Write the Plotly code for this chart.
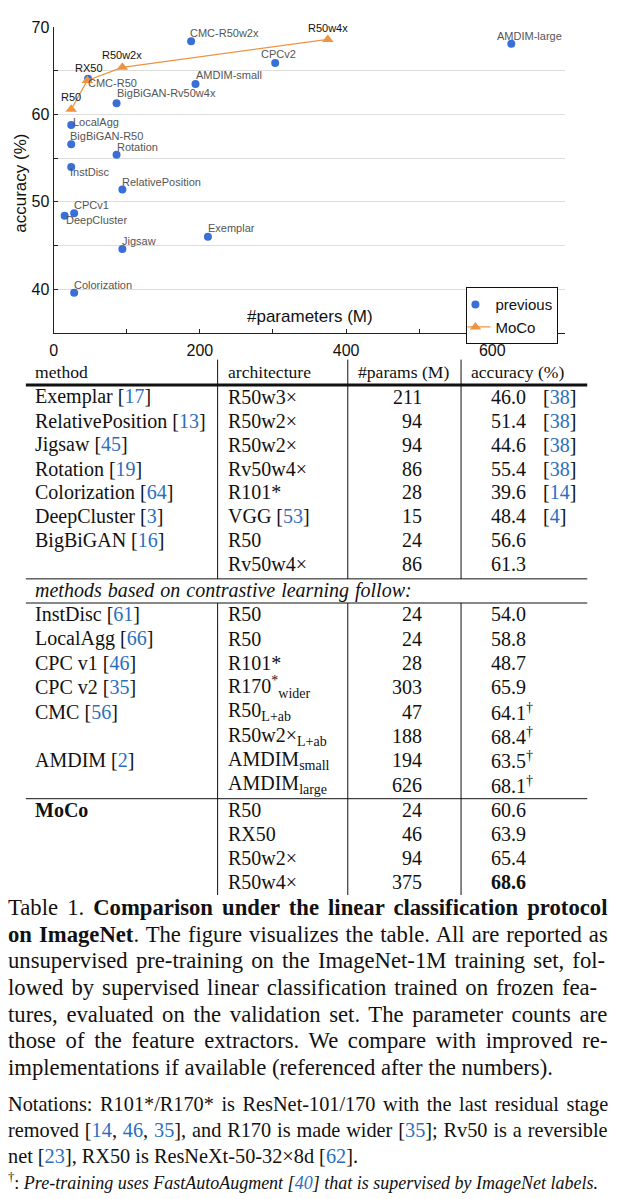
import plotly.graph_objects as go

# ---------------- chart data ----------------
prev_labels = ["Exemplar", "RelativePosition", "Jigsaw", "Rotation", "Colorization",
               "DeepCluster", "BigBiGAN-R50", "BigBiGAN-Rv50w4x", "InstDisc", "LocalAgg",
               "CPCv1", "CPCv2", "CMC-R50", "CMC-R50w2x", "AMDIM-small", "AMDIM-large"]
prev_params = [211, 94, 94, 86, 28, 15, 24, 86, 24, 24, 28, 303, 47, 188, 194, 626]
prev_acc = [46.0, 51.4, 44.6, 55.4, 39.6, 48.4, 56.6, 61.3, 54.0, 58.8, 48.7, 65.9, 64.1, 68.4, 63.5, 68.1]

moco_labels = ["R50", "RX50", "R50w2x", "R50w4x"]
moco_params = [24, 46, 94, 375]
moco_acc = [60.6, 63.9, 65.4, 68.6]

x_ticks = [0, 200, 400, 600]
y_ticks = [40, 50, 60, 70]

# ---------------- table data ----------------
header = ["method", "architecture", "#params (M)", "accuracy (%)"]

sec1_method = ["Exemplar", "RelativePosition", "Jigsaw", "Rotation", "Colorization", "DeepCluster", "BigBiGAN", ""]
sec1_mref = ["17", "13", "45", "19", "64", "3", "16", ""]
sec1_arch = ["R50w3×", "R50w2×", "R50w2×", "Rv50w4×", "R101*", "VGG", "R50", "Rv50w4×"]
sec1_aref = ["", "", "", "", "", "53", "", ""]
sec1_params = [211, 94, 94, 86, 28, 15, 24, 86]
sec1_acc = [46.0, 51.4, 44.6, 55.4, 39.6, 48.4, 56.6, 61.3]
sec1_accref = ["38", "38", "38", "38", "14", "4", "", ""]

sec_divider = "methods based on contrastive learning follow:"

sec2_method = ["InstDisc", "LocalAgg", "CPC v1", "CPC v2", "CMC", "", "AMDIM", ""]
sec2_mref = ["61", "66", "46", "35", "56", "", "2", ""]
sec2_arch = ["R50", "R50", "R101*", "R170<sup>*</sup><sub>wider</sub>", "R50<sub>L+ab</sub>",
             "R50w2×<sub>L+ab</sub>", "AMDIM<sub>small</sub>", "AMDIM<sub>large</sub>"]
sec2_params = [24, 24, 28, 303, 47, 188, 194, 626]
sec2_acc = [54.0, 58.8, 48.7, 65.9, 64.1, 68.4, 63.5, 68.1]
sec2_dagger = [False, False, False, False, True, True, True, True]

sec3_method = ["MoCo", "", "", ""]
sec3_arch = ["R50", "RX50", "R50w2×", "R50w4×"]
sec3_params = [24, 46, 94, 375]
sec3_acc = [60.6, 63.9, 65.4, 68.6]

# ---------------- styles ----------------
W, H = 625, 1199
BLUE = "#3a6fd8"
ORANGE = "#ee9440"
CITE = "#2a6fc0"
SANS = "Liberation Sans, Arial, sans-serif"
SERIF = "Liberation Serif, Times New Roman, serif"

def X(px):
    return px / W

def Y(py):
    return 1 - py / H

def cite(*nums):
    return "[" + ", ".join(f"<span style='color:{CITE}'>{n}</span>" for n in nums) + "]"

# label placement: (xanchor, dx px, dy px up)
prev_label_pos = {
    "Exemplar": ("left", -2, 9), "RelativePosition": ("left", -2, 8), "Jigsaw": ("left", -2, 8),
    "Rotation": ("left", -2, 8), "Colorization": ("left", -2, 8), "DeepCluster": ("left", -1, -4),
    "BigBiGAN-R50": ("left", -3, 8), "BigBiGAN-Rv50w4x": ("left", -2, 10), "InstDisc": ("left", -3, -5),
    "LocalAgg": ("left", 0, 3), "CPCv1": ("left", -2, 8), "CPCv2": ("center", 3, 9),
    "CMC-R50": ("left", -2, -4), "CMC-R50w2x": ("left", -3, 8), "AMDIM-small": ("left", -2, 9),
    "AMDIM-large": ("left", -16, 8),
}
moco_label_pos = {"R50": ("center", 0, 12), "RX50": ("center", 2, 12),
                  "R50w2x": ("center", 0, 12), "R50w4x": ("center", 0, 11)}

fig = go.Figure()
fig.add_trace(go.Scatter(x=prev_params, y=prev_acc, mode="markers", name="previous",
                         marker=dict(color=BLUE, size=8), cliponaxis=False, hoverinfo="skip"))
fig.add_trace(go.Scatter(x=moco_params, y=moco_acc, mode="lines+markers", name="MoCo",
                         marker=dict(symbol="triangle-up", size=10, color=ORANGE),
                         line=dict(color=ORANGE, width=1.3), cliponaxis=False, hoverinfo="skip"))

ann = []
for lab, xv, yv in zip(prev_labels, prev_params, prev_acc):
    xa, dx, dy = prev_label_pos[lab]
    ann.append(dict(x=xv, y=yv, xref="x", yref="y", text=lab, showarrow=False, xanchor=xa,
                    yanchor="middle", xshift=dx, yshift=dy, font=dict(family=SANS, size=11, color="#555555")))
for lab, xv, yv in zip(moco_labels, moco_params, moco_acc):
    xa, dx, dy = moco_label_pos[lab]
    ann.append(dict(x=xv, y=yv, xref="x", yref="y", text=lab, showarrow=False, xanchor=xa,
                    yanchor="middle", xshift=dx, yshift=dy, font=dict(family=SANS, size=11, color="#111111")))

# axis titles
ann.append(dict(x=0.5, y=0.052, xref="x domain", yref="y domain", text="#parameters (M)", showarrow=False,
                xanchor="center", yanchor="middle", font=dict(family=SANS, size=17, color="#111111")))
ann.append(dict(x=X(17), y=Y(176), xref="paper", yref="paper", text="accuracy (%)", showarrow=False,
                textangle=-90, xanchor="center", yanchor="middle", font=dict(family=SANS, size=17, color="#111111")))

def txt(px, py, text, anchor="left", size=20, family=SERIF, color="#111111", ws=None):
    if ws:
        text = f"<span style='word-spacing:{ws}px'>{text}</span>"
    ann.append(dict(x=X(px), y=Y(py), xref="paper", yref="paper", text=text, showarrow=False,
                    xanchor=anchor, yanchor="middle", font=dict(family=family, size=size, color=color)))

# table columns (left anchors compensate for the annotation box padding)
COL_M, COL_A, COL_P, COL_ACC, COL_REF = 29, 223, 423, 488, 540
# header
txt(COL_M, 366, header[0], size=17.6)
txt(COL_A, 366, header[1], size=17.6)
txt(403, 366, header[2], anchor="center", size=17.6)
txt(468, 366, header[3], size=17.6)

# section 1
for i in range(len(sec1_method)):
    py = 391.5 + 24.05 * i
    if sec1_method[i]:
        txt(COL_M, py, sec1_method[i] + " " + cite(sec1_mref[i]))
    a = sec1_arch[i] + (" " + cite(sec1_aref[i]) if sec1_aref[i] else "")
    txt(COL_A, py, a)
    txt(COL_P, py, str(sec1_params[i]), anchor="right")
    txt(COL_ACC, py, f"{sec1_acc[i]:.1f}")
    if sec1_accref[i]:
        txt(COL_REF, py, cite(sec1_accref[i]))

txt(COL_M, 586, f"<i>{sec_divider}</i>", ws=1)

# section 2
for i in range(len(sec2_method)):
    py = 610.5 + 24.5 * i
    if sec2_method[i]:
        txt(COL_M, py, sec2_method[i] + " " + cite(sec2_mref[i]))
    txt(COL_A, py, sec2_arch[i])
    txt(COL_P, py, str(sec2_params[i]), anchor="right")
    txt(COL_ACC, py, f"{sec2_acc[i]:.1f}" + ("<sup>†</sup>" if sec2_dagger[i] else ""))

# section 3 (MoCo)
best = max(sec3_acc)
for i in range(len(sec3_arch)):
    py = 807 + 24.4 * i
    if sec3_method[i]:
        txt(COL_M, py, f"<b>{sec3_method[i]}</b>")
    txt(COL_A, py, sec3_arch[i])
    txt(COL_P, py, str(sec3_params[i]), anchor="right")
    v = f"{sec3_acc[i]:.1f}"
    txt(COL_ACC, py, f"<b>{v}</b>" if sec3_acc[i] == best else v)

# caption
caption = [
    "Table 1. <b>Comparison under the linear classification protocol</b>",
    "<b>on ImageNet</b>. The figure visualizes the table. All are reported as",
    "unsupervised pre-training on the ImageNet-1M training set, fol-",
    "lowed by supervised linear classification trained on frozen fea-",
    "tures, evaluated on the validation set. The parameter counts are",
    "those of the feature extractors. We compare with improved re-",
    "implementations if available (referenced after the numbers).",
]
caption_ws = [3.4, 1.3, 2.5, 2.3, 3.0, 4.0, None]
for i, line in enumerate(caption):
    txt(2, 906 + 26.7 * i, line, size=22.7, ws=caption_ws[i])

notes = [
    "Notations: R101*/R170* is ResNet-101/170 with the last residual stage",
    "removed " + cite(14, 46, 35) + ", and R170 is made wider " + cite(35) + "; Rv50 is a reversible",
    "net " + cite(23) + ", RX50 is ResNeXt-50-32×8d " + cite(62) + ".",
]
notes_ws = [2.5, 0.8, None]
for i, line in enumerate(notes):
    txt(2, 1104 + 25.7 * i, line, size=20.3, ws=notes_ws[i])
txt(2, 1181, "<sup>†</sup>: <i>Pre-training uses FastAutoAugment " + cite(40)
    + " that is supervised by ImageNet labels.</i>", size=18)

# table rules
shapes = []
def hline(py, x0=22, x1=587, w=1):
    shapes.append(dict(type="line", xref="paper", yref="paper", x0=X(x0), x1=X(x1), y0=Y(py), y1=Y(py),
                       line=dict(color="#111111", width=w)))
def vline(px, y0, y1):
    shapes.append(dict(type="line", xref="paper", yref="paper", x0=X(px), x1=X(px), y0=Y(y0), y1=Y(y1),
                       line=dict(color="#111111", width=1)))
hline(379.5, w=3)
hline(574.7)
hline(599)
hline(796)
for px in (215, 346, 460):
    vline(px, 354, 574.7)
    vline(px, 599, 893)

axis_common = dict(ticks="inside", ticklen=4, tickcolor="#222222", showline=True, linecolor="#222222",
                   linewidth=1.3, zeroline=False, tickfont=dict(family=SANS, size=16, color="#111111"))

fig.update_layout(
    width=W, height=H, margin=dict(l=0, r=0, t=0, b=0),
    paper_bgcolor="white", plot_bgcolor="white",
    font=dict(family=SANS, size=16, color="#111111"),
    showlegend=True,
    legend=dict(x=X(558), y=Y(281), xanchor="right", yanchor="top", bgcolor="white",
                bordercolor="#111111", borderwidth=1, font=dict(family=SANS, size=15, color="#111111"),
                indentation=-12, itemwidth=30, tracegroupgap=0),
    xaxis=dict(domain=[X(50), X(565)], range=[0, 700], tickvals=x_ticks, showgrid=False, anchor="y",
               ticklabelstandoff=3,
               minor=dict(dtick=100, tick0=0, ticks="inside", ticklen=4, tickcolor="#222222", showgrid=False),
               **axis_common),
    yaxis=dict(domain=[Y(327), Y(19.3)], range=[35, 70], tickvals=y_ticks, showgrid=True,
               gridcolor="#dddddd", gridwidth=1, anchor="x",
               minor=dict(dtick=5, tick0=35, ticks="inside", ticklen=4, tickcolor="#222222",
                          showgrid=True, gridcolor="#dddddd", gridwidth=1),
               **axis_common),
    annotations=ann, shapes=shapes,
)

fig.write_html(
    "out.html",
    config={"displayModeBar": False},
    post_script=("var s=document.createElement('style');"
                 "s.innerHTML='html,body{margin:0;padding:0;overflow:hidden;}';"
                 "document.head.appendChild(s);document.body.style.margin='0';"),
)
